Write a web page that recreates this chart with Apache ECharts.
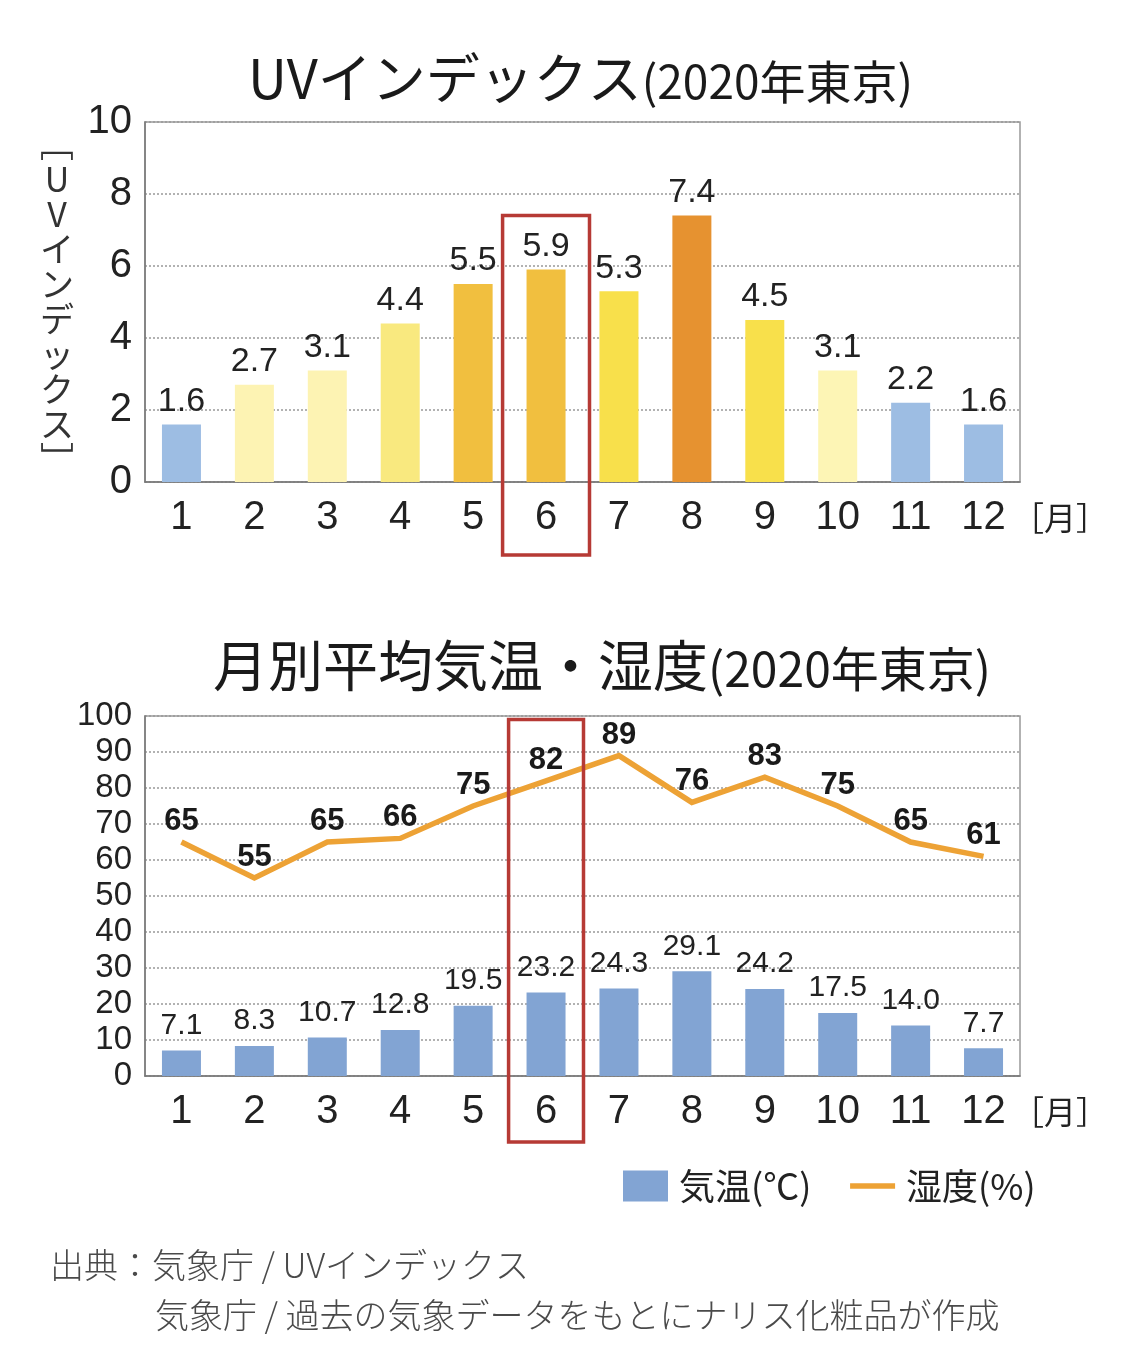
<!DOCTYPE html>
<html>
<head>
<meta charset="utf-8">
<title>UVインデックス・月別平均気温・湿度（2020年東京）</title>
<script src="https://cdn.jsdelivr.net/npm/echarts@6/dist/echarts.min.js"></script>
<style>
  html, body { margin: 0; padding: 0; background: #fff; }
  #chart { width: 1121px; height: 1356px; }
</style>
</head>
<body>
<div id="chart"></div>
<script>
// data
var months = ['1', '2', '3', '4', '5', '6', '7', '8', '9', '10', '11', '12'];
var uvIndex = [1.6, 2.7, 3.1, 4.4, 5.5, 5.9, 5.3, 7.4, 4.5, 3.1, 2.2, 1.6];
var temperature = [7.1, 8.3, 10.7, 12.8, 19.5, 23.2, 24.3, 29.1, 24.2, 17.5, 14.0, 7.7];
var humidity = [65, 55, 65, 66, 75, 82, 89, 76, 83, 75, 65, 61];
var highlightMonth = '6';

// bar colours of the UV chart, one per month
var uvColors = ['#9dbde3', '#fdf3b3', '#fdf3b3', '#f9e97f', '#f1bf3f', '#f1bf3f',
                '#f8e04b', '#e69230', '#f8e04b', '#fdf5b5', '#9dbde3', '#9dbde3'];

var numFont = '"Liberation Sans", Arial, sans-serif';
var jpFont = '"Noto Sans CJK JP", "Noto Sans", sans-serif';

var uvAxisName = ['﹇', 'U', 'V', 'イ', 'ン', 'デ', 'ッ', 'ク', 'ス', '﹈'].join('\n');

var splitStyle = { show: true, lineStyle: { color: '#999', width: 1.5, type: [2, 2] } };

function monthAxisName() {
    return {
        name: '［月］', nameLocation: 'end', nameGap: -8,
        nameTextStyle: { fontFamily: jpFont, fontSize: 32, color: '#222', align: 'left', verticalAlign: 'top', lineHeight: 72 }
    };
}

var chart = echarts.init(document.getElementById('chart'));

var option = {
    animation: false,
    backgroundColor: '#fff',
    title: [
        {
            left: 243, top: 36,
            text: '{a|UVインデックス}{b|(2020年東京)}',
            textStyle: {
                rich: {
                    a: { fontFamily: jpFont, fontSize: 54, fontWeight: 'normal', color: '#1a1a1a', verticalAlign: 'bottom', lineHeight: 64 },
                    b: { fontFamily: jpFont, fontSize: 46, fontWeight: 'normal', color: '#1a1a1a', verticalAlign: 'bottom', lineHeight: 60 }
                }
            }
        },
        {
            left: 208, top: 622,
            text: '{a|月別平均気温・湿度}{b|(2020年東京)}',
            textStyle: {
                rich: {
                    a: { fontFamily: jpFont, fontSize: 55, fontWeight: 'normal', color: '#1a1a1a', verticalAlign: 'bottom', lineHeight: 66 },
                    b: { fontFamily: jpFont, fontSize: 48, fontWeight: 'normal', color: '#1a1a1a', verticalAlign: 'bottom', lineHeight: 62 }
                }
            }
        }
    ],
    legend: {
        left: 618, top: 1163,
        itemWidth: 45, itemHeight: 31,
        itemGap: 36,
        textStyle: { fontFamily: jpFont, fontSize: 36, color: '#222', padding: [0, 0, 0, 6] },
        data: [
            { name: '気温(℃)', icon: 'rect' },
            { name: '湿度(%)', lineStyle: { width: 5.5, color: '#eda235' } }
        ]
    },
    grid: [
        { left: 145, width: 875, top: 122, height: 360, show: true, borderColor: '#999', borderWidth: 1.5 },
        { left: 145, width: 875, top: 716, height: 360, show: true, borderColor: '#999', borderWidth: 1.5 }
    ],
    xAxis: [
        Object.assign({
            type: 'category', gridIndex: 0, data: months,
            axisLine: { lineStyle: { color: '#777', width: 1.5 } },
            axisTick: { show: false },
            axisLabel: { fontFamily: numFont, fontSize: 40, color: '#222', margin: 16 }
        }, monthAxisName()),
        Object.assign({
            type: 'category', gridIndex: 1, data: months,
            axisLine: { lineStyle: { color: '#777', width: 1.5 } },
            axisTick: { show: false },
            axisLabel: { fontFamily: numFont, fontSize: 40, color: '#222', margin: 16 }
        }, monthAxisName())
    ],
    yAxis: [
        {
            type: 'value', gridIndex: 0, min: 0, max: 10, interval: 2,
            axisLine: { show: true, lineStyle: { color: '#777', width: 1.5 } },
            axisTick: { show: false },
            axisLabel: { fontFamily: numFont, fontSize: 40, color: '#222', margin: 13 },
            splitLine: splitStyle,
            name: uvAxisName, nameLocation: 'middle', nameRotate: 0, nameGap: 88,
            nameTextStyle: { fontFamily: jpFont, fontSize: 34, color: '#333', lineHeight: 35, align: 'center', verticalAlign: 'middle' }
        },
        {
            type: 'value', gridIndex: 1, min: 0, max: 100, interval: 10,
            axisLine: { show: true, lineStyle: { color: '#777', width: 1.5 } },
            axisTick: { show: false },
            axisLabel: { fontFamily: numFont, fontSize: 33, color: '#222', margin: 13 },
            splitLine: splitStyle
        }
    ],
    series: [
        {
            name: 'UVインデックス', type: 'bar', xAxisIndex: 0, yAxisIndex: 0,
            barWidth: 39,
            data: uvIndex.map(function (v, i) {
                return { value: v, itemStyle: { color: uvColors[i] } };
            }),
            label: {
                show: true, position: 'top', distance: 6,
                fontFamily: numFont, fontSize: 34, color: '#222',
                formatter: function (p) { return p.value.toFixed(1); }
            }
        },
        {
            name: '気温(℃)', type: 'bar', xAxisIndex: 1, yAxisIndex: 1,
            barWidth: 39,
            itemStyle: { color: '#82a4d3' },
            data: temperature,
            label: {
                show: true, position: 'top', distance: 10,
                fontFamily: numFont, fontSize: 30, color: '#222',
                formatter: function (p) { return p.value.toFixed(1); }
            }
        },
        {
            name: '湿度(%)', type: 'line', xAxisIndex: 1, yAxisIndex: 1,
            data: humidity,
            symbol: 'circle', symbolSize: 2, showSymbol: true,
            lineStyle: { color: '#eda235', width: 5.5, join: 'miter' },
            itemStyle: { color: '#eda235', opacity: 0 },
            label: {
                show: true, position: 'top', distance: 4, opacity: 1,
                fontFamily: numFont, fontSize: 31, fontWeight: 'bold', color: '#1a1a1a'
            }
        }
    ]
};

chart.setOption(option);

// red frames around the highlighted month, placed from the axes
function frameRect(gridIdx, topValue, padX, extraBottom) {
    var finder = { xAxisIndex: gridIdx, yAxisIndex: gridIdx };
    var c = chart.convertToPixel(finder, [highlightMonth, 0]);
    var next = chart.convertToPixel(finder, [months[months.indexOf(highlightMonth) + 1], 0]);
    var band = next[0] - c[0];
    var top = chart.convertToPixel(finder, [highlightMonth, topValue])[1];
    var half = band / 2 + padX;
    return {
        type: 'rect',
        shape: { x: c[0] - half, y: top, width: half * 2, height: c[1] - top + extraBottom },
        style: { fill: 'none', stroke: '#b63a35', lineWidth: 3.5 },
        z: 100
    };
}

var f1 = frameRect(0, 7.4, 7, 73);
var f2 = frameRect(1, 99, 1, 66);

chart.setOption({
    graphic: [
        f1, f2,
        {
            type: 'text', left: 50, top: 1248,
            style: { text: '出典：気象庁 / UVインデックス', font: '300 34px ' + jpFont, fill: '#4a4a4a' }
        },
        {
            type: 'text', left: 155, top: 1298,
            style: { text: '気象庁 / 過去の気象データをもとにナリス化粧品が作成', font: '300 34px ' + jpFont, fill: '#4a4a4a' }
        }
    ]
});
</script>
</body>
</html>
